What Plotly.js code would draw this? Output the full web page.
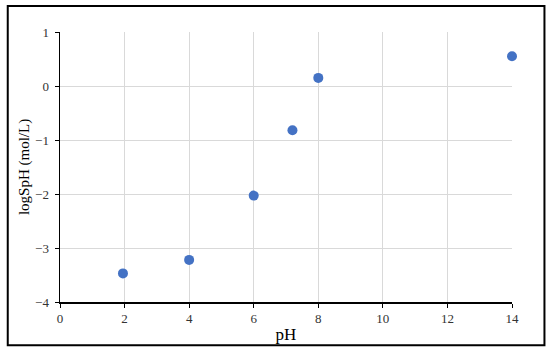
<!DOCTYPE html>
<html>
<head>
<meta charset="utf-8">
<script src="https://cdn.plot.ly/plotly-3.0.1.min.js"></script>
<style>
  html, body { margin: 0; padding: 0; background: #fff; }
  #chart { width: 550px; height: 350px; }
</style>
</head>
<body>
<div id="chart"></div>
<script>
// data
const ph_values = [1.95, 4.0, 6.0, 7.2, 8.0, 14.0];
const log_sph = [-3.47, -3.22, -2.03, -0.82, 0.15, 0.55];

const x_ticks = [0, 2, 4, 6, 8, 10, 12, 14];
const y_ticks = [-4, -3, -2, -1, 0, 1];

const serif = 'Liberation Serif';
const tick_font = { family: serif, size: 13, color: '#333333' };

const trace = {
    x: ph_values,
    y: log_sph,
    type: 'scatter',
    mode: 'markers',
    cliponaxis: false,
    marker: { color: '#4472C4', size: 10 },
    hoverinfo: 'x+y'
};

const layout = {
    width: 550,
    height: 350,
    margin: { l: 60, r: 38, t: 32, b: 48 },
    paper_bgcolor: '#fff',
    plot_bgcolor: '#fff',
    showlegend: false,
    font: { family: serif, size: 13, color: '#333333' },
    xaxis: {
        range: [0, 14],
        tickvals: x_ticks,
        tickfont: tick_font,
        ticks: 'outside',
        ticklen: 4,
        tickcolor: '#000',
        showline: true,
        linecolor: '#000',
        linewidth: 1.5,
        showgrid: true,
        gridcolor: '#d9d9d9',
        zeroline: false,
        title: { text: 'pH', font: { family: serif, size: 17, color: '#000' }, standoff: 3 }
    },
    yaxis: {
        range: [-4, 1],
        tickvals: y_ticks,
        tickfont: tick_font,
        ticks: 'outside',
        ticklen: 4,
        tickcolor: '#000',
        ticklabelstandoff: 3,
        showline: true,
        linecolor: '#000',
        linewidth: 1.5,
        showgrid: true,
        gridcolor: '#d9d9d9',
        zeroline: false,
        title: { text: 'logSpH (mol/L)', font: { family: serif, size: 15, color: '#000' }, standoff: 2 }
    },
    shapes: [{
        // outer frame around the whole figure
        type: 'rect',
        xref: 'paper', yref: 'paper',
        x0: -0.1156, x1: 1.0718,
        y0: -0.1606, y1: 1.0964,
        line: { color: '#000', width: 2 },
        fillcolor: 'rgba(0,0,0,0)',
        layer: 'above'
    }]
};

Plotly.newPlot('chart', [trace], layout, { displayModeBar: false, staticPlot: true });
</script>
</body>
</html>
